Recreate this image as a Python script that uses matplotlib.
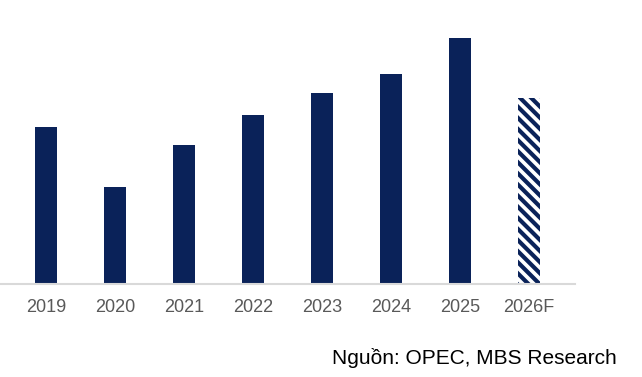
import matplotlib.pyplot as plt
import matplotlib as mpl

# du lieu doc tu hinh (don vi tuong doi)
nam = ["2019", "2020", "2021", "2022", "2023", "2024", "2025", "2026F"]
gia_tri = [157, 97, 139, 169, 191, 210, 246, 186]
du_bao = [False, False, False, False, False, False, False, True]

mau = "#0a2259"
mpl.rcParams['font.family'] = ['Liberation Sans', 'DejaVu Sans']
mpl.rcParams['hatch.linewidth'] = 3.0
mpl.rcParams['hatch.color'] = mau

fig = plt.figure(figsize=(6.42, 3.77), dpi=100)
ax = fig.add_axes([0, 93 / 377, 575 / 642, 284 / 377])

x = range(len(nam))
for i in x:
    if du_bao[i]:
        ax.bar(i, gia_tri[i], width=0.32, color="white", edgecolor=mau,
               hatch="\\\\\\", linewidth=0)
    else:
        ax.bar(i, gia_tri[i], width=0.32, color=mau)

ax.set_xlim(-0.667, 7.667)
ax.set_ylim(0, 284)
ax.set_xticks(list(x))
ax.set_xticklabels(nam, fontsize=13, color="#595959")
ax.tick_params(axis="x", length=0, pad=11)
ax.set_yticks([])
for s in ["top", "right", "left"]:
    ax.spines[s].set_visible(False)
ax.spines["bottom"].set_color("#d9d9d9")
ax.spines["bottom"].set_linewidth(1.5)

fig.text(617 / 642, 1 - 358 / 377, "Nguồn: OPEC, MBS Research", ha="right",
         va="center", fontsize=15, color="black")

fig.savefig("out.png", dpi=100)
